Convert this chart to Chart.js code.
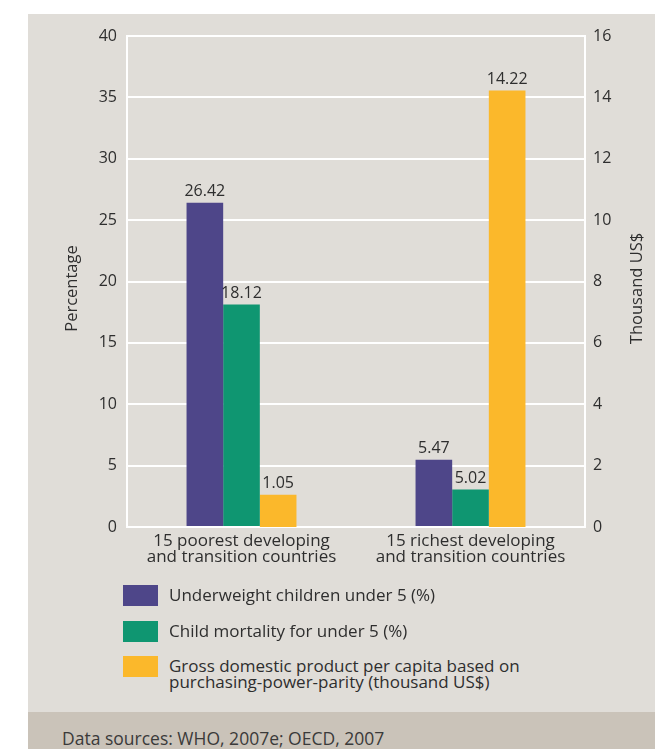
<!DOCTYPE html>
<html>
<head>
<meta charset="utf-8">
<script src="https://cdn.jsdelivr.net/npm/chart.js@4/dist/chart.umd.min.js"></script>
<style>
  html, body { margin: 0; padding: 0; background: #ffffff; width: 655px; height: 749px; overflow: hidden; }
  body { position: relative; font-family: "Open Sans", "Noto Sans", sans-serif; color: #333; }
  #panel { position: absolute; left: 28px; top: 14px; width: 627px; height: 735px; background: #e0ddd8; }
  #footer { position: absolute; left: 28px; top: 712px; width: 627px; height: 37px; background: #cac3b9; }
  #footer span { position: absolute; left: 34px; top: 17px; font-size: 17.5px; line-height: 18px; color: #3a3a3a; }
  #wrap { position: absolute; left: 0; top: 0; width: 655px; height: 600px; }
  .lg { position: absolute; left: 123px; width: 35px; height: 21px; }
  .lt { position: absolute; left: 169px; font-size: 17px; line-height: 16px; color: #2e2e2e; white-space: nowrap; }
</style>
</head>
<body>
<div id="panel"></div>
<div id="footer"><span>Data sources: WHO, 2007e; OECD, 2007</span></div>
<div id="wrap"><canvas id="c" width="655" height="600"></canvas></div>
<div id="legend"></div>
<script>
const categories = [["15 poorest developing", "and transition countries"], ["15 richest developing", "and transition countries"]];
const seriesNames = [
  "Underweight children under 5 (%)",
  "Child mortality for under 5 (%)",
  "Gross domestic product per capita based on\npurchasing-power-parity (thousand US$)"
];
// bar heights as drawn in the reference
const underweight = [26.42, 5.47];
const mortality = [18.12, 3.05];
const gdp = [1.05, 14.22];
// value labels as printed in the reference
const underweightLabels = ["26.42", "5.47"];
const mortalityLabels = ["18.12", "5.02"];
const gdpLabels = ["1.05", "14.22"];
const leftTicks = [0, 5, 10, 15, 20, 25, 30, 35, 40];
const rightTicks = [0, 2, 4, 6, 8, 10, 12, 14, 16];
const colors = ["#4e4689", "#0f9671", "#fbb82b"];

// HTML legend
const legend = document.getElementById('legend');
const legTops = [585, 621, 656];
const textTops = [587, 623, 658];
seriesNames.forEach((name, i) => {
  const sq = document.createElement('div');
  sq.className = 'lg'; sq.style.top = legTops[i] + 'px'; sq.style.background = colors[i];
  legend.appendChild(sq);
  const t = document.createElement('div');
  t.className = 'lt'; t.style.top = textTops[i] + 'px';
  name.split('\n').forEach((line, k) => {
    if (k > 0) t.appendChild(document.createElement('br'));
    t.appendChild(document.createTextNode(line));
  });
  legend.appendChild(t);
});

const valueLabels = {
  id: 'valueLabels',
  afterDatasetsDraw(chart) {
    const ctx = chart.ctx;
    ctx.save();
    ctx.font = '16px "Open Sans", "Noto Sans", sans-serif';
    ctx.fillStyle = '#2e2e2e';
    ctx.textAlign = 'center';
    ctx.textBaseline = 'bottom';
    chart.data.datasets.forEach((ds, di) => {
      const meta = chart.getDatasetMeta(di);
      meta.data.forEach((el, i) => {
        ctx.fillText(ds.valueLabels[i], el.x, el.y - 3);
      });
    });
    ctx.restore();
  }
};

const axisTitles = {
  id: 'axisTitles',
  afterDraw(chart) {
    const ctx = chart.ctx;
    const mid = (chart.chartArea.top + chart.chartArea.bottom) / 2 + 7;
    ctx.save();
    ctx.font = '16.5px "Open Sans", "Noto Sans", sans-serif';
    ctx.fillStyle = '#2e2e2e';
    ctx.textAlign = 'center';
    ctx.textBaseline = 'middle';
    [[72, 'Percentage'], [637, 'Thousand US$']].forEach(([x, txt]) => {
      ctx.save();
      ctx.translate(x, mid);
      ctx.rotate(-Math.PI / 2);
      ctx.fillText(txt, 0, 0);
      ctx.restore();
    });
    ctx.restore();
  }
};

const tickFont = { family: '"Open Sans", "Noto Sans", sans-serif', size: 16 };

new Chart(document.getElementById('c'), {
  type: 'bar',
  data: {
    labels: categories,
    datasets: [
      { label: seriesNames[0], data: underweight, valueLabels: underweightLabels, backgroundColor: colors[0], yAxisID: 'y' },
      { label: seriesNames[1], data: mortality, valueLabels: mortalityLabels, backgroundColor: colors[1], yAxisID: 'y' },
      { label: seriesNames[2], data: gdp, valueLabels: gdpLabels, backgroundColor: colors[2], yAxisID: 'y1' }
    ]
  },
  options: {
    responsive: false,
    animation: false,
    events: [],
    layout: { padding: { top: 36, left: 0, right: 0, bottom: 0 } },
    datasets: { bar: { barPercentage: 1.0, categoryPercentage: 0.48, borderWidth: 0 } },
    plugins: { legend: { display: false }, tooltip: { enabled: false } },
    scales: {
      x: {
        grid: { display: false, drawTicks: false, tickLength: 0 },
        border: { display: false },
        ticks: { color: '#2e2e2e', font: { family: tickFont.family, size: 17, lineHeight: 0.9 }, padding: 7, maxRotation: 0 },
        afterFit(s) { s.height = 73; }
      },
      y: {
        position: 'left',
        min: 0, max: 40,
        afterBuildTicks(s) { s.ticks = leftTicks.map(v => ({ value: v })); },
        grid: { color: '#ffffff', lineWidth: 2, drawTicks: false, tickLength: 0 },
        border: { display: true, color: '#ffffff', width: 2 },
        ticks: { color: '#2e2e2e', font: tickFont, padding: 10 },
        afterFit(s) { s.width = 127; }
      },
      y1: {
        position: 'right',
        min: 0, max: 16,
        afterBuildTicks(s) { s.ticks = rightTicks.map(v => ({ value: v })); },
        grid: { display: false, drawTicks: false, tickLength: 0 },
        border: { display: true, color: '#ffffff', width: 2 },
        ticks: { color: '#2e2e2e', font: tickFont, padding: 8 },
        afterFit(s) { s.width = 70; }
      }
    }
  },
  plugins: [valueLabels, axisTitles]
});
</script>
</body>
</html>
